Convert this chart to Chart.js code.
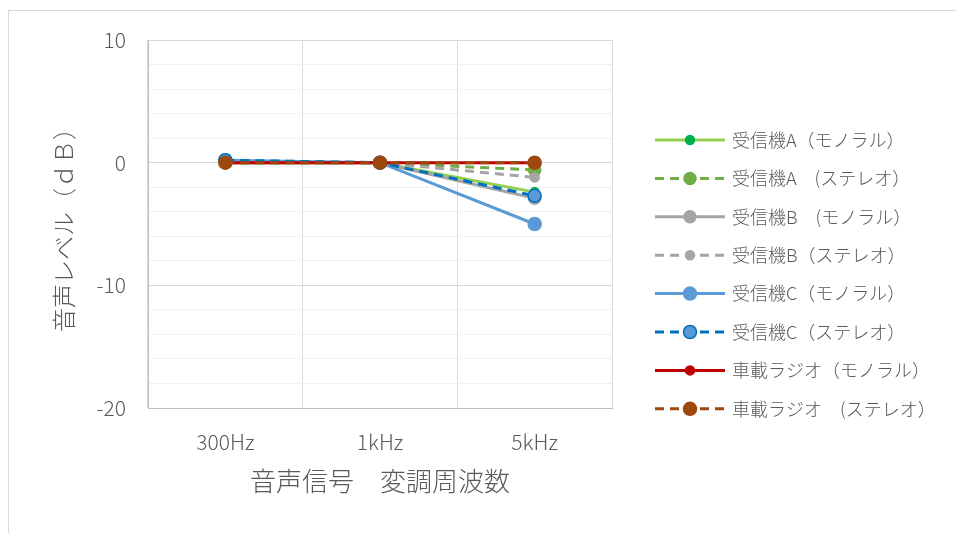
<!DOCTYPE html>
<html>
<head>
<meta charset="utf-8">
<script src="https://cdn.jsdelivr.net/npm/chart.js@4"></script>
<style>
    html, body { margin: 0; padding: 0; background: #fff; }
    #wrap { position: relative; width: 956px; height: 533px; }
</style>
</head>
<body>
<div id="wrap"><canvas id="chart" width="956" height="533"></canvas></div>
<script>
// categories and values
const categories = ['300Hz', '1kHz', '5kHz']
const seriesNames = [
    '受信機A（モノラル）',
    '受信機A　(ステレオ）',
    '受信機B　(モノラル）',
    '受信機B（ステレオ）',
    '受信機C（モノラル）',
    '受信機C（ステレオ）',
    '車載ラジオ（モノラル）',
    '車載ラジオ　(ステレオ）',
]
const receiverAMono = [0, 0, -2.4]
const receiverAStereo = [0, 0, -0.6]
const receiverBMono = [0, 0, -2.9]
const receiverBStereo = [0, 0, -1.2]
const receiverCMono = [0.2, 0, -5.0]
const receiverCStereo = [0.2, 0, -2.7]
const carRadioMono = [0, 0, 0]
const carRadioStereo = [0, 0, 0]
const yTickLabels = [10, 0, -10, -20]

const textColor = '#595959'
const fontFamily = '"Noto Sans CJK JP", "Noto Sans", sans-serif'

const styles = [
    { line: '#92d050', point: '#00b050', border: '#00b050', dash: [], r: 4.5 },
    { line: '#70ad47', point: '#70ad47', border: '#70ad47', dash: [9, 6], r: 6 },
    { line: '#a5a5a5', point: '#a5a5a5', border: '#a5a5a5', dash: [], r: 6 },
    { line: '#a5a5a5', point: '#a5a5a5', border: '#a5a5a5', dash: [9, 6], r: 4.5 },
    { line: '#5b9bd5', point: '#5b9bd5', border: '#5b9bd5', dash: [], r: 6.5 },
    { line: '#0070c0', point: '#5b9bd5', border: '#0070c0', dash: [9, 6], r: 6.5 },
    { line: '#c00000', point: '#c00000', border: '#c00000', dash: [], r: 4.5 },
    { line: '#9e480e', point: '#9e480e', border: '#9e480e', dash: [9, 6], r: 6.5 },
]
const seriesData = [
    receiverAMono, receiverAStereo, receiverBMono, receiverBStereo,
    receiverCMono, receiverCStereo, carRadioMono, carRadioStereo,
]

const datasets = seriesData.map((data, i) => ({
    label: seriesNames[i],
    data: data,
    borderColor: styles[i].line,
    borderDash: styles[i].dash,
    borderWidth: 3,
    pointRadius: styles[i].r,
    pointHoverRadius: styles[i].r,
    pointBackgroundColor: styles[i].point,
    pointBorderColor: styles[i].border,
    pointBorderWidth: 1.5,
    tension: 0,
    order: seriesData.length - 1 - i, // last series on top
}))

// frame round the whole chart
const framePlugin = {
    id: 'frame',
    beforeDraw(chart) {
        const ctx = chart.ctx
        ctx.save()
        ctx.strokeStyle = '#d9d9d9'
        ctx.lineWidth = 1
        ctx.strokeRect(8.5, 10.5, 1000, 600)
        ctx.restore()
    },
}

// legend with line + marker samples
const lineLegendPlugin = {
    id: 'lineLegend',
    afterDraw(chart) {
        const ctx = chart.ctx
        const x0 = 655, x1 = 725, textX = 732
        const top = 140, step = 38.4
        ctx.save()
        chart.data.datasets.forEach((ds, i) => {
            const y = top + i * step
            ctx.beginPath()
            ctx.setLineDash(ds.borderDash)
            ctx.strokeStyle = ds.borderColor
            ctx.lineWidth = 3
            ctx.moveTo(x0, y)
            ctx.lineTo(x1, y)
            ctx.stroke()
            ctx.setLineDash([])
            ctx.beginPath()
            ctx.arc((x0 + x1) / 2, y, ds.pointRadius, 0, Math.PI * 2)
            ctx.fillStyle = ds.pointBackgroundColor
            ctx.fill()
            ctx.lineWidth = ds.pointBorderWidth
            ctx.strokeStyle = ds.pointBorderColor
            ctx.stroke()
            ctx.fillStyle = textColor
            ctx.font = '300 18px ' + fontFamily
            ctx.textBaseline = 'middle'
            ctx.textAlign = 'left'
            ctx.fillText(ds.label, textX, y)
        })
        ctx.restore()
    },
}

new Chart(document.getElementById('chart'), {
    type: 'line',
    data: { labels: categories, datasets: datasets },
    plugins: [framePlugin, lineLegendPlugin],
    options: {
        responsive: false,
        animation: false,
        layout: { padding: { left: 0, right: 344, top: 40, bottom: 0 } },
        plugins: {
            legend: { display: false },
            tooltip: { enabled: false },
        },
        scales: {
            x: {
                offset: true,
                grid: {
                    offset: true,
                    color: '#d9d9d9',
                    drawTicks: false,
                },
                border: { color: '#bfbfbf', width: 1 },
                ticks: {
                    color: textColor,
                    padding: 21,
                    font: { family: fontFamily, size: 21, weight: 300 },
                },
                title: {
                    display: true,
                    text: '音声信号　変調周波数',
                    color: textColor,
                    font: { family: fontFamily, size: 26, weight: 300 },
                    padding: { bottom: 36 },
                },
                afterFit(scale) {
                    scale.height = 125
                },
            },
            y: {
                min: -20,
                max: 10,
                ticks: {
                    stepSize: 2,
                    autoSkip: false,
                    color: textColor,
                    padding: 22,
                    font: { family: fontFamily, size: 21, weight: 300 },
                    callback: v => (yTickLabels.includes(v) ? String(v) : ''),
                },
                grid: {
                    drawTicks: false,
                    color: ctx => (ctx.tick && ctx.tick.value % 10 === 0 ? '#d9d9d9' : '#f0f0f0'),
                },
                border: { color: '#bfbfbf', width: 1 },
                title: {
                    display: true,
                    text: '音声レベル（ｄＢ）',
                    color: textColor,
                    font: { family: fontFamily, size: 24, weight: 300 },
                    padding: { top: 49 },
                },
                afterFit(scale) {
                    scale.width = 148
                },
            },
        },
    },
})
</script>
</body>
</html>
